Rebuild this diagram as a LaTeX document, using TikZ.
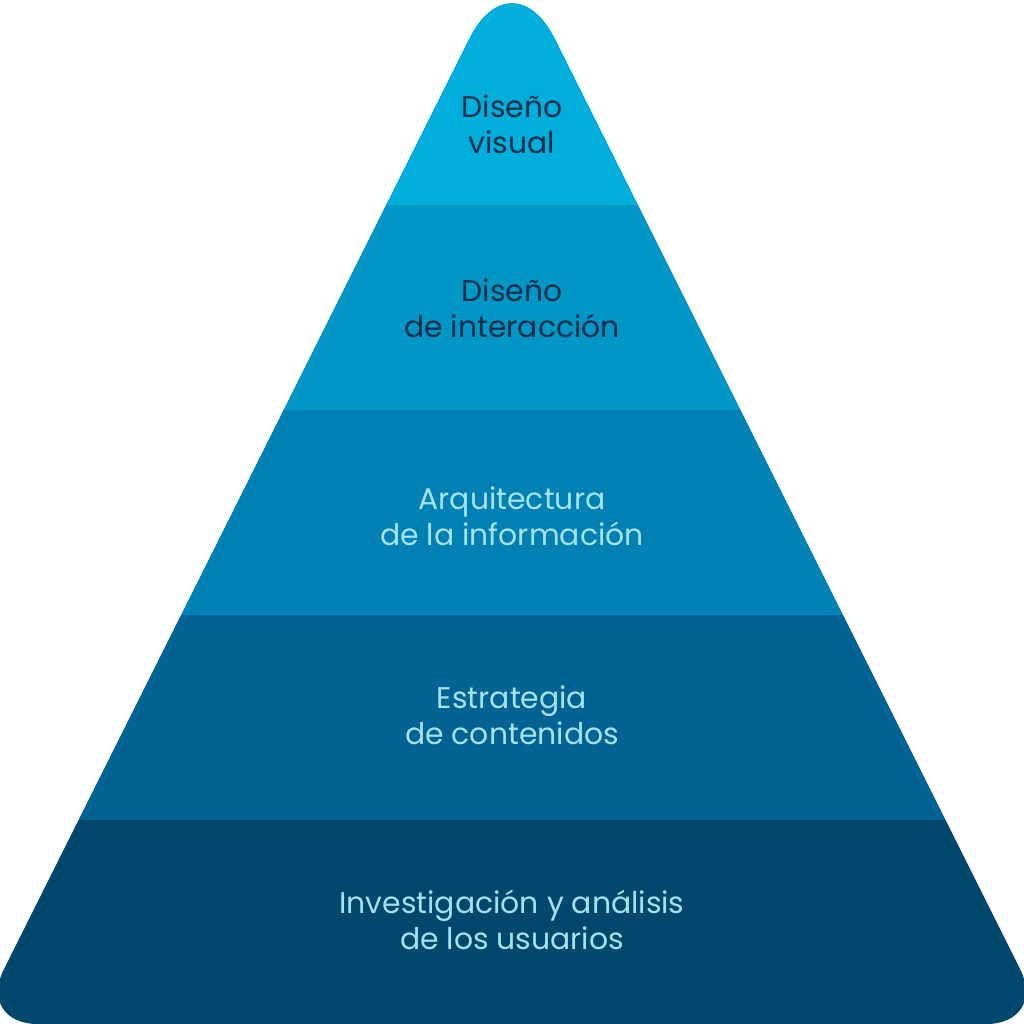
\documentclass[tikz,border=0pt]{standalone}
\usepackage{fontspec}
\setmainfont{Poppins}
\usepackage{tikz}
\usetikzlibrary{positioning}
\definecolor{capaA}{RGB}{0,174,220}
\definecolor{capaB}{RGB}{0,150,198}
\definecolor{capaC}{RGB}{0,128,179}
\definecolor{capaD}{RGB}{0,99,147}
\definecolor{capaE}{RGB}{0,71,110}
\definecolor{textoosc}{RGB}{11,46,74}
\definecolor{textoclaro}{RGB}{166,227,242}

\begin{document}
\begin{tikzpicture}[x=0.02cm, y=-0.02cm,
    etiqueta/.style={align=center, font=\fontsize{17}{20.4}\selectfont, inner sep=0pt}]
    \useasboundingbox (0,0) rectangle (1024,1024);

    % Contorno de la piramide
    \begin{scope}
    \clip (512,1024) [rounded corners=34.9pt] -- (1047.5,1024) [rounded corners=54.5pt] -- (512,-47) [rounded corners=34.9pt] -- (-23.5,1024) -- cycle;

    % Capas
    \fill[capaA] (-50,-60) rectangle (1100,205);
    \fill[capaB] (-50,205) rectangle (1100,410);
    \fill[capaC] (-50,410) rectangle (1100,615);
    \fill[capaD] (-50,615) rectangle (1100,820);
    \fill[capaE] (-50,820) rectangle (1100,1100);
    \end{scope}

    % Textos
    \node[etiqueta, textoosc] (visual) at (512,124) {Diseño\\visual};
    \node[etiqueta, textoosc] (interaccion) at (512,308) {Diseño\\de interacción};
    \node[etiqueta, textoclaro] (arquitectura) at (512,516) {Arquitectura\\de la información};
    \node[etiqueta, textoclaro] (estrategia) at (512,715) {Estrategia\\de contenidos};
    \node[etiqueta, textoclaro] (investigacion) at (512,920) {Investigación y análisis\\de los usuarios};
\end{tikzpicture}
\end{document}
